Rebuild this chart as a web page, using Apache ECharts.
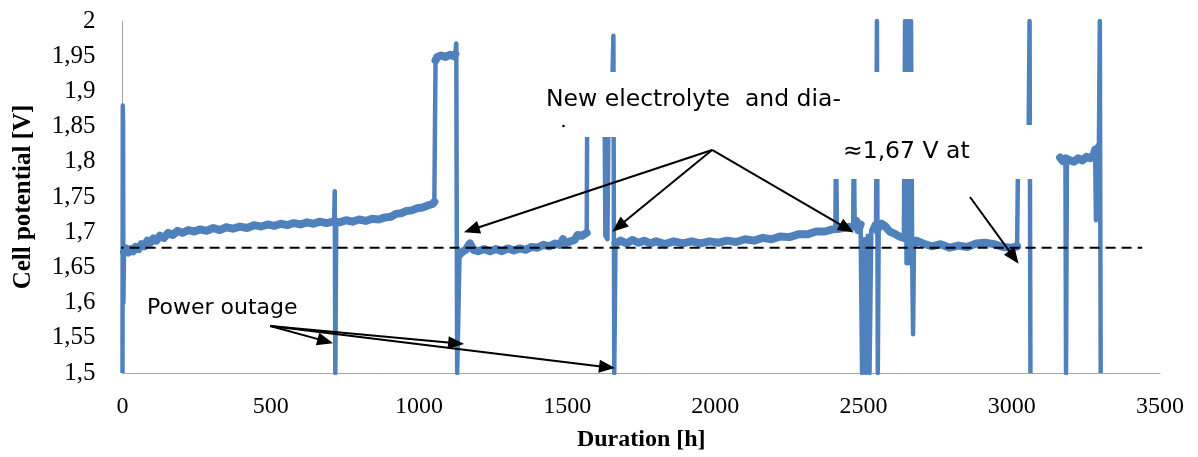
<!DOCTYPE html>
<html>
<head>
<meta charset="utf-8">
<script src="https://cdn.jsdelivr.net/npm/echarts@6/dist/echarts.min.js"></script>
<style>
  html, body { margin: 0; padding: 0; background: #fff; }
  #chart { width: 1198px; height: 457px; }
</style>
</head>
<body>
<div id="chart"></div>
<script>
// cell potential [V] vs duration [h]
// slow drifting parts of the curve (drawn as a thick noisy band)
var band1 = [
  [5, 1.672], [12, 1.677], [20, 1.671], [28, 1.676], [36, 1.673], [44, 1.679], [54, 1.676],
  [64, 1.683], [74, 1.68], [84, 1.688], [94, 1.685], [104, 1.691], [114, 1.688], [126, 1.695],
  [140, 1.692], [154, 1.699], [170, 1.696], [186, 1.702], [202, 1.699], [222, 1.703], [242, 1.701],
  [262, 1.704], [284, 1.702], [306, 1.706], [328, 1.703], [350, 1.707], [372, 1.705], [396, 1.708],
  [420, 1.706], [444, 1.71], [468, 1.708], [490, 1.711], [512, 1.709], [534, 1.712], [556, 1.71],
  [578, 1.713], [600, 1.711], [622, 1.714], [644, 1.712], [666, 1.715], [688, 1.713], [710, 1.715],
  [732, 1.714], [754, 1.717], [776, 1.715], [798, 1.718], [820, 1.716], [842, 1.719], [864, 1.718],
  [886, 1.721], [906, 1.722], [922, 1.726], [940, 1.727], [958, 1.73], [976, 1.731], [994, 1.734],
  [1012, 1.735], [1030, 1.738], [1046, 1.74], [1052, 1.743], '-',
  [1056, 1.944], [1062, 1.949], [1075, 1.951], [1090, 1.949], [1105, 1.952], [1118, 1.95], [1123, 1.953]
]
var band2 = [
  [1137, 1.668], [1146, 1.672], [1158, 1.675], [1172, 1.684], [1184, 1.675], [1200, 1.673],
  [1220, 1.676], [1240, 1.673], [1260, 1.676], [1280, 1.673], [1300, 1.677], [1320, 1.674],
  [1340, 1.677], [1360, 1.675], [1380, 1.679], [1400, 1.678], [1420, 1.682], [1440, 1.68],
  [1460, 1.684], [1475, 1.682], [1486, 1.69], [1496, 1.684], [1510, 1.687], [1525, 1.689],
  [1535, 1.696], [1550, 1.695], [1566, 1.699]
]
var band3 = [
  [1663, 1.684], [1680, 1.688], [1700, 1.684], [1720, 1.689], [1740, 1.685], [1760, 1.688],
  [1780, 1.684], [1800, 1.687], [1830, 1.683], [1860, 1.687], [1890, 1.684], [1920, 1.687],
  [1950, 1.684], [1980, 1.687], [2010, 1.685], [2040, 1.688], [2070, 1.686], [2100, 1.69],
  [2130, 1.688], [2160, 1.692], [2190, 1.69], [2220, 1.694], [2250, 1.693], [2280, 1.697],
  [2310, 1.697], [2340, 1.701], [2370, 1.701], [2395, 1.704], [2420, 1.705], [2445, 1.707],
  [2465, 1.708], [2476, 1.716], [2482, 1.703], [2490, 1.711]
]
var band4 = [
  [2551, 1.706], [2560, 1.712], [2572, 1.709], [2588, 1.701], [2604, 1.698], [2620, 1.694],
  [2636, 1.692], '-',
  [2670, 1.682], [2678, 1.688], [2700, 1.684], [2730, 1.68], [2760, 1.683], [2790, 1.678],
  [2820, 1.681], [2850, 1.679], [2880, 1.684], [2910, 1.685], [2940, 1.683], [2970, 1.679],
  [3000, 1.678], [3018, 1.68], '-',
  [3163, 1.806], [3172, 1.801], [3182, 1.805], [3196, 1.802], [3210, 1.8], [3224, 1.805],
  [3238, 1.802], [3252, 1.807], [3266, 1.805], [3276, 1.81], [3281, 1.817]
]
// fast jumps, spikes and outages (thin line)
var spikes = [
  [0, 1.5], [1, 1.88], [2, 1.85], [3, 1.6], [5, 1.672], '-',
  [714, 1.714], [716, 1.758], [718, 1.5], [721, 1.714], '-',
  [1052, 1.743], [1056, 1.944], '-',
  [1123, 1.953], [1126, 1.968], [1129, 1.5], [1134, 1.5], [1137, 1.668], '-',
  [1566, 1.699], [1568, 1.9], [1626, 1.9], [1629, 1.695], [1636, 1.69], [1640, 1.9], [1652, 1.9],
  [1656, 1.979], [1659, 1.5], [1663, 1.684], '-',
  [2405, 1.704], [2407, 1.85], [2410, 1.705], '-',
  [2465, 1.708], [2467, 1.85], [2470, 1.71], '-',
  [2490, 1.711], [2495, 1.5], [2502, 1.69], [2508, 1.5], [2514, 1.695], [2520, 1.5], [2526, 1.703],
  [2536, 1.712], [2542, 1.7], [2545, 2.0], [2548, 1.5], [2551, 1.706], '-',
  [2636, 1.692], [2640, 2.0], [2645, 1.656], [2650, 2.0], [2655, 1.656], [2660, 2.0], [2664, 1.66],
  [2667, 1.555], [2670, 1.682], '-',
  [3018, 1.68], [3021, 1.8], [3056, 1.8], [3060, 2.0], [3063, 1.5], '-',
  [3181, 1.803], [3183, 1.5], [3186, 1.803], '-',
  [3281, 1.817], [3284, 1.717], [3288, 1.822], [3294, 1.826], [3297, 2.0], [3300, 1.5]
]
var refLevel = [[-30, 1.678], [3440, 1.678]]

// annotation arrows: [from, to] in hours / volts
var arrows = [
  [[1989, 1.8168], [1155, 1.7003]],
  [[1989, 1.8168], [1655, 1.7017]],
  [[1989, 1.8168], [2464, 1.7003]],
  [[2859, 1.75], [3021, 1.6563]],
  [[498, 1.5668], [707, 1.5426]],
  [[498, 1.5668], [1149, 1.5412]],
  [[498, 1.5668], [1658, 1.5071]]
]

var pxPerHour = 1037.5 / 3500
var pxPerVolt = 704

// triangle symbols sit centred on the end point: pull the end back so the tip lands on it
function arrowLine(a) {
  var dx = (a[1][0] - a[0][0]) * pxPerHour
  var dy = (a[1][1] - a[0][1]) * pxPerVolt
  var f = 1 - 7 / Math.sqrt(dx * dx + dy * dy)
  var end = [a[0][0] + (a[1][0] - a[0][0]) * f, a[0][1] + (a[1][1] - a[0][1]) * f]
  return [{ coord: a[0] }, { coord: end, symbolSize: [13, 16] }]
}

var myChart = echarts.init(document.getElementById('chart'))

var noteFont = '23.5px "DejaVu Sans", Verdana, sans-serif'
var blue = '#4f81bd'

option = {
  animation: false,
  backgroundColor: '#ffffff',
  grid: { left: 122.5, right: 38, top: 21, bottom: 84 },
  xAxis: {
    type: 'value',
    min: 0,
    max: 3500,
    interval: 500,
    name: 'Duration [h]',
    nameLocation: 'middle',
    nameGap: 55,
    nameTextStyle: { fontFamily: 'Liberation Serif', fontWeight: 'bold', fontSize: 24, color: '#000' },
    axisLine: { onZero: false, lineStyle: { color: '#a6a6a6', width: 1 } },
    axisTick: { show: false },
    splitLine: { show: false },
    axisLabel: {
      fontFamily: 'Liberation Serif', fontSize: 24, color: '#000', margin: 22,
      formatter: function (v) { return String(v) }
    }
  },
  yAxis: {
    type: 'value',
    min: 1.5,
    max: 2,
    interval: 0.05,
    name: 'Cell potential [V]',
    nameLocation: 'middle',
    nameGap: 86,
    nameTextStyle: { fontFamily: 'Liberation Serif', fontWeight: 'bold', fontSize: 25, color: '#000' },
    axisLine: { show: true, lineStyle: { color: '#a6a6a6', width: 1 } },
    axisTick: { show: false },
    splitLine: { show: false },
    axisLabel: {
      fontFamily: 'Liberation Serif',
      fontSize: 25,
      color: '#000',
      margin: 27,
      formatter: function (v) {
        return String(Math.round(v * 100) / 100).replace('.', ',')
      }
    }
  },
  series: [{
    name: 'band',
    type: 'line',
    data: band1.concat(['-'], band2, ['-'], band3, ['-'], band4),
    showSymbol: false,
    connectNulls: false,
    clip: true,
    z: 2,
    silent: true,
    lineStyle: { color: blue, width: 8, join: 'round', cap: 'round' }
  }, {
    name: 'spikes',
    type: 'line',
    data: spikes,
    showSymbol: false,
    connectNulls: false,
    clip: true,
    z: 2,
    silent: true,
    lineStyle: { color: blue, width: 4.5, join: 'round' }
  }, {
    name: 'reference',
    type: 'line',
    data: refLevel,
    showSymbol: false,
    clip: false,
    z: 3,
    silent: true,
    lineStyle: { color: '#000', width: 2, type: [10, 6] },
    markLine: {
      silent: true,
      symbol: ['none', 'triangle'],
      symbolSize: 14,
      label: { show: false },
      lineStyle: { color: '#000', width: 2, type: 'solid' },
      emphasis: { disabled: true },
      data: arrows.map(arrowLine)
    }
  }],
  graphic: [
    { type: 'rect', z: 100, shape: { x: 535, y: 72, width: 390, height: 65 }, style: { fill: '#fff' } },
    { type: 'rect', z: 100, shape: { x: 822, y: 125, width: 222, height: 54 }, style: { fill: '#fff' } },
    { type: 'text', z: 101, x: 546, y: 100, style: { text: 'New electrolyte  and dia-', font: noteFont, fill: '#000', verticalAlign: 'middle' } },
    { type: 'circle', z: 101, shape: { cx: 563.5, cy: 126, r: 1.3 }, style: { fill: '#000' } },
    { type: 'text', z: 101, x: 843, y: 152, style: { text: '≈1,67 V at', font: noteFont, fill: '#000', verticalAlign: 'middle' } },
    { type: 'text', z: 101, x: 147, y: 308, style: { text: 'Power outage', font: '22px "DejaVu Sans", Verdana, sans-serif', fill: '#000', verticalAlign: 'middle' } }
  ]
}

myChart.setOption(option)
</script>
</body>
</html>
